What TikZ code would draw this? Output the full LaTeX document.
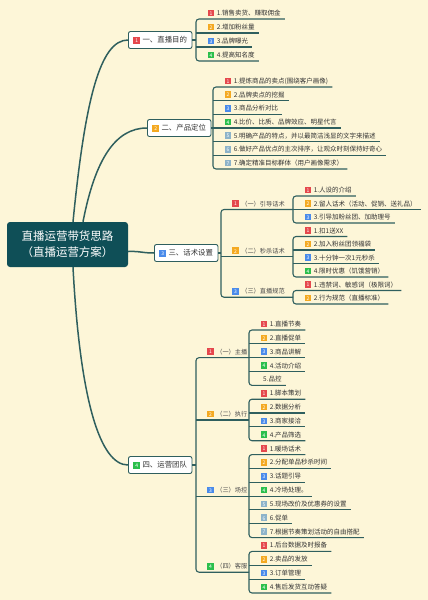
\documentclass[tikz,border=0pt]{standalone}
\usepackage{fontspec}
\setmainfont{Noto Sans CJK SC}
\usetikzlibrary{calc}
\definecolor{bg}{HTML}{FDF6D8}
\definecolor{lc}{HTML}{2F5F5E}
\definecolor{cfill}{HTML}{0F4F57}
\definecolor{txt}{HTML}{333333}
\definecolor{stxt}{HTML}{4A4A4A}
\definecolor{bred}{HTML}{E5484D}
\definecolor{borg}{HTML}{F4A921}
\definecolor{bblu}{HTML}{4A8BEA}
\definecolor{bgrn}{HTML}{2BBF4C}
\definecolor{bgry}{HTML}{8DB3C9}
\newcommand\bdg[2]{\raisebox{-0.8pt}{\setlength{\fboxsep}{0pt}\colorbox{#1}{\makebox[6.6pt]{\rule{0pt}{6.6pt}\color{white}\fontsize{5}{5}\selectfont\raisebox{1pt}{#2}}}}\hspace{2.5pt}}
\newcommand\lf[4]{\node[leaf] (#1) at (#2,#3) {\hspace*{11.5pt}#4\hspace*{4pt}};}
\newcommand\sn[4]{\node[subn] (#1) at (#2,#3) {\hspace*{11pt}#4};}
\newcommand\ul[1]{\draw[ln] (#1.south west) -- (#1.south east);}
\newcommand\brk[2]{\draw[br] (#1.south east) -- (#1.south west) -- (#2.south west) -- (#2.south east);}
\tikzset{
  leaf/.style={anchor=south west, inner xsep=0pt, inner ysep=1.8pt, text height=5pt, text depth=1.5pt, font=\fontsize{6.5}{7}\selectfont, text=txt},
  subn/.style={leaf, text=stxt, font=\fontsize{6.2}{7}\selectfont},
  ln/.style={draw=lc, line width=1.1pt},
  br/.style={ln, rounded corners=3pt},
  mainc/.style={draw=lc, line width=1.5pt},
  mbox/.style={anchor=west, draw=lc, line width=0.9pt, fill=white, rounded corners=2pt, minimum height=17pt, inner xsep=5pt, inner ysep=0pt, font=\fontsize{7.4}{8}\selectfont, text=txt},
  central/.style={fill=cfill, text=white, rounded corners=3pt, minimum width=121pt, minimum height=45pt, inner sep=0pt, align=center, font=\fontsize{11.5}{16}\selectfont}
}
\begin{document}
\begin{tikzpicture}[x=1pt,y=-1pt]
\fill[bg] (0,0) rectangle (428,600);
\useasboundingbox (0,0) rectangle (428,600);

% central and main branches
\node[central] (c) at (67.5,244.5) {直播运营带货思路\\（直播运营方案）};
\node[mbox] (p1) at (128,40) {\bdg{bred}{1}一、直播目的};
\node[mbox] (p2) at (147,128) {\bdg{borg}{2}二、产品定位};
\node[mbox] (p3) at (154,253) {\bdg{bblu}{3}三、话术设置};
\node[mbox] (p4) at (128,465) {\bdg{bgrn}{4}四、运营团队};

\draw[mainc] ([xshift=5.5pt]c.north) .. controls (85,100) and (100,40) .. (p1.west);
\draw[mainc] ([xshift=15.5pt]c.north) .. controls (95,160) and (115,128) .. (p2.west);
\draw[mainc] ([yshift=-7pt]c.east) .. controls (140,251) and (142,253) .. (p3.west);
\draw[mainc] ([xshift=5.5pt]c.south) .. controls (80,400) and (100,465) .. (p4.west);

% branch 1
\lf{a1}{196}{19}{\bdg{bred}{1}1.销售卖货、赚取佣金}
\lf{a2}{196}{33}{\bdg{borg}{2}2.增加粉丝量}
\lf{a3}{196}{47}{\bdg{bblu}{3}3.品牌曝光}
\lf{a4}{196}{61}{\bdg{bgrn}{4}4.提高知名度}
\brk{a1}{a4}\ul{a2}\ul{a3}
\draw[ln] (p1.east) -- (p1.east -| a1.south west);

% branch 2
\lf{b1}{213}{87}{\bdg{bred}{1}1.提炼商品的卖点(围绕客户画像)}
\lf{b2}{213}{100.67}{\bdg{borg}{2}2.品牌卖点的挖掘}
\lf{b3}{213}{114.33}{\bdg{bblu}{3}3.商品分析对比}
\lf{b4}{213}{128}{\bdg{bgrn}{4}4.比价、比质、品牌效应、明星代言}
\lf{b5}{213}{141.67}{\bdg{bgry}{5}5.明确产品的特点，并以最简洁浅显的文字来描述}
\lf{b6}{213}{155.33}{\bdg{bgry}{6}6.做好产品优点的主次排序，让观众时刻保持好奇心}
\lf{b7}{213}{169}{\bdg{bgry}{7}7.确定精准目标群体（用户画像需求）}
\brk{b1}{b7}\ul{b2}\ul{b3}\ul{b4}\ul{b5}\ul{b6}
\draw[ln] (p2.east) -- (p2.east -| b1.south west);

% branch 3
\sn{s1}{221}{209.5}{\bdg{bred}{1}（一）引导话术}
\sn{s2}{221}{256.75}{\bdg{borg}{2}（二）秒杀话术}
\sn{s3}{221}{297.25}{\bdg{bblu}{3}（三）直播规范}
\lf{c1}{293}{196}{\bdg{bred}{1}1.人设的介绍}
\lf{c2}{293}{209.5}{\bdg{borg}{2}2.留人话术（活动、促销、送礼品）}
\lf{c3}{293}{223}{\bdg{bblu}{3}3.引导加粉丝团、加助理号}
\lf{c4}{293}{236.5}{\bdg{bred}{1}1.扣1送XX}
\lf{c5}{293}{250}{\bdg{borg}{2}2.加入粉丝团领福袋}
\lf{c6}{293}{263.5}{\bdg{bblu}{3}3.十分钟一次1元秒杀}
\lf{c7}{293}{277}{\bdg{bgrn}{4}4.限时优惠（饥饿营销）}
\lf{c8}{293}{290.5}{\bdg{bred}{1}1.违禁词、敏感词（极限词）}
\lf{c9}{293}{304}{\bdg{borg}{2}2.行为规范（直播标准）}
\brk{c1}{c3}\ul{c2}
\brk{c4}{c7}\ul{c5}\ul{c6}
\brk{c8}{c9}
\draw[br] (s1.south west -| c1.south west) -- (s1.south west) -- (s3.south west) -- (s3.south west -| c8.south west);
\draw[ln] (s2.south west) -- (s2.south west -| c4.south west);
\draw[ln] (p3.east) -- (p3.east -| s1.south west);

% branch 4
\sn{t1}{196}{357.68}{\bdg{bred}{1}（一）主播}
\sn{t2}{196}{419.96}{\bdg{borg}{2}（二）执行}
\sn{t3}{196}{496.08}{\bdg{bblu}{3}（三）场控}
\sn{t4}{196}{572.2}{\bdg{bgrn}{4}（四）客服}
\lf{d0}{249}{330}{\bdg{bred}{1}1.直播节奏}
\lf{d1}{249}{343.84}{\bdg{borg}{2}2.直播促单}
\lf{d2}{249}{357.68}{\bdg{bblu}{3}3.商品讲解}
\lf{d3}{249}{371.52}{\bdg{bgrn}{4}4.活动介绍}
\node[leaf] (d4) at (249,385.36) {\hspace*{14pt}5.品控\hspace*{4pt}};
\lf{d5}{249}{399.2}{\bdg{bred}{1}1.脚本策划}
\lf{d6}{249}{413.04}{\bdg{borg}{2}2.数据分析}
\lf{d7}{249}{426.88}{\bdg{bblu}{3}3.商家接洽}
\lf{d8}{249}{440.72}{\bdg{bgrn}{4}4.产品筛选}
\lf{d9}{249}{454.56}{\bdg{bred}{1}1.暖场话术}
\lf{d10}{249}{468.4}{\bdg{borg}{2}2.分配单品秒杀时间}
\lf{d11}{249}{482.24}{\bdg{bblu}{3}3.话题引导}
\lf{d12}{249}{496.08}{\bdg{bgrn}{4}4.冷场处理。}
\lf{d13}{249}{509.92}{\bdg{bgry}{5}5.现场改价及优惠券的设置}
\lf{d14}{249}{523.76}{\bdg{bgry}{6}6.促单}
\lf{d15}{249}{537.6}{\bdg{bgry}{7}7.根据节奏策划活动的自由搭配}
\lf{d16}{249}{551.44}{\bdg{bred}{1}1.后台数据及时报备}
\lf{d17}{249}{565.28}{\bdg{borg}{2}2.卖品的发放}
\lf{d18}{249}{579.12}{\bdg{bblu}{3}3.订单管理}
\lf{d19}{249}{592.96}{\bdg{bgrn}{4}4.售后发货互动答疑}
\brk{d0}{d4}\ul{d1}\ul{d2}\ul{d3}
\brk{d5}{d8}\ul{d6}\ul{d7}
\brk{d9}{d15}\ul{d10}\ul{d11}\ul{d12}\ul{d13}\ul{d14}
\brk{d16}{d19}\ul{d17}\ul{d18}
\draw[br] (t1.south west -| d0.south west) -- (t1.south west) -- (t4.south west) -- (t4.south west -| d16.south west);
\draw[ln] (t2.south west) -- (t2.south west -| d5.south west);
\draw[ln] (t3.south west) -- (t3.south west -| d9.south west);
\draw[ln] (p4.east) -- (p4.east -| t1.south west);
\end{tikzpicture}
\end{document}
